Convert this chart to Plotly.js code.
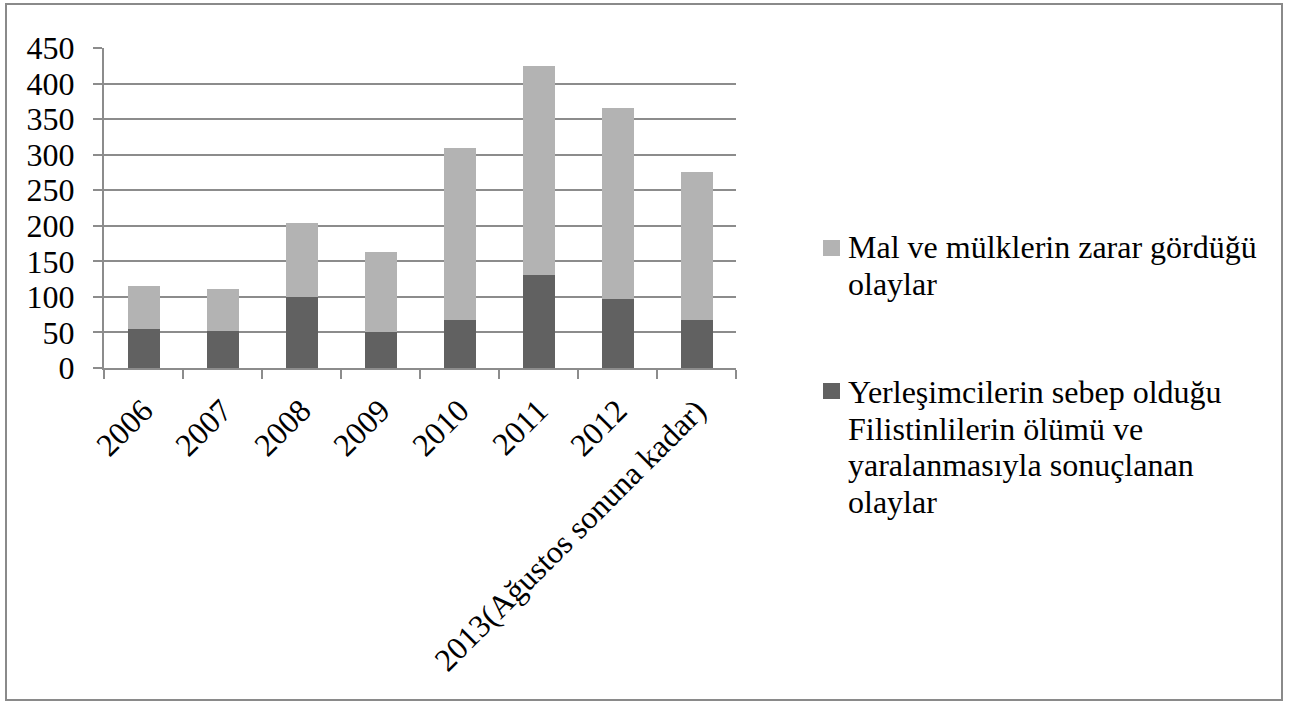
<!DOCTYPE html>
<html>
<head>
<meta charset="utf-8">
<script src="https://cdn.plot.ly/plotly-3.0.1.min.js"></script>
<style>
  html, body { margin: 0; padding: 0; background: #ffffff; }
  #chart { width: 1299px; height: 702px; }
</style>
</head>
<body>
<div id="chart"></div>
<script>
// ---- Data ----
var categories = ['2006', '2007', '2008', '2009', '2010', '2011', '2012', '2013(Ağustos sonuna kadar)'];
var casualtyEvents = [55, 52, 100, 50, 68, 131, 97, 67];      // dark, bottom segment
var propertyEvents = [60, 59, 104, 113, 242, 294, 269, 209];  // light, top segment
var yTickValues = [0, 50, 100, 150, 200, 250, 300, 350, 400, 450];
var propertyLabelLines = ['Mal ve mülklerin zarar gördüğü', 'olaylar'];
var casualtyLabelLines = ['Yerleşimcilerin sebep olduğu', 'Filistinlilerin ölümü ve', 'yaralanmasıyla sonuçlanan', 'olaylar'];

var lightColor = '#b3b3b3';
var darkColor = '#616161';
var gridColor = '#8c8c8c';
var fontFamily = 'Liberation Serif, Times New Roman, serif';
var fontSize = 32;

// plot area in pixels
var W = 1299, H = 702;
var L = 104, R = 736, T = 48, B = 368;
function px2x(px) { return (px - L) / (R - L); }
function py2y(py) { return (B - py) / (B - T); }

var traces = [
  {
    type: 'bar',
    name: casualtyLabelLines.join(' '),
    x: categories,
    y: casualtyEvents,
    marker: { color: darkColor, line: { width: 0 } },
    hoverinfo: 'x+y+name'
  },
  {
    type: 'bar',
    name: propertyLabelLines.join(' '),
    x: categories,
    y: propertyEvents,
    marker: { color: lightColor, line: { width: 0 } },
    hoverinfo: 'x+y+name'
  }
];

// manual legend (square + text lines)
var shapes = [];
var annotations = [];
var lineGap = 36.5;
function addLegendEntry(lines, color, squareTop, firstLineCenter) {
  shapes.push({
    type: 'rect', xref: 'paper', yref: 'paper',
    x0: px2x(823), x1: px2x(840), y0: py2y(squareTop + 16), y1: py2y(squareTop),
    fillcolor: color, line: { width: 0 }
  });
  lines.forEach(function (t, i) {
    annotations.push({
      xref: 'paper', yref: 'paper',
      x: px2x(846), y: py2y(firstLineCenter + i * lineGap),
      xanchor: 'left', yanchor: 'middle',
      text: t, showarrow: false,
      font: { family: fontFamily, size: fontSize, color: '#000000' }
    });
  });
}
addLegendEntry(propertyLabelLines, lightColor, 240, 247);
addLegendEntry(casualtyLabelLines, darkColor, 383, 392);

// outer chart border
shapes.push({
  type: 'rect', xref: 'paper', yref: 'paper',
  x0: px2x(6), x1: px2x(1282), y0: py2y(700), y1: py2y(4),
  line: { color: '#8a8a8a', width: 2 }, fillcolor: 'rgba(0,0,0,0)', layer: 'below'
});

var layout = {
  width: W, height: H,
  margin: { l: L, r: W - R, t: T, b: H - B, pad: 0 },
  paper_bgcolor: '#ffffff',
  plot_bgcolor: '#ffffff',
  barmode: 'stack',
  bargap: 0.595,
  showlegend: false,
  font: { family: fontFamily, size: fontSize, color: '#000000' },
  xaxis: {
    type: 'category',
    showline: true, linecolor: gridColor, linewidth: 2,
    ticks: 'outside', tickson: 'boundaries', ticklen: 9, tickwidth: 2, tickcolor: gridColor,
    tickangle: -45,
    ticklabelstandoff: 9,
    tickfont: { family: fontFamily, size: fontSize, color: '#000000' },
    showgrid: false, zeroline: false, automargin: false
  },
  yaxis: {
    range: [0, 450],
    tickvals: yTickValues,
    ticktext: yTickValues.map(String),
    showline: true, linecolor: gridColor, linewidth: 2,
    ticks: 'outside', ticklen: 9, tickwidth: 2, tickcolor: gridColor,
    showgrid: true, gridcolor: gridColor, gridwidth: 2,
    zeroline: false,
    ticklabelstandoff: 12,
    tickfont: { family: fontFamily, size: fontSize, color: '#000000' },
    automargin: false
  },
  shapes: shapes,
  annotations: annotations
};

Plotly.newPlot('chart', traces, layout, { displayModeBar: false, staticPlot: true });
</script>
</body>
</html>
